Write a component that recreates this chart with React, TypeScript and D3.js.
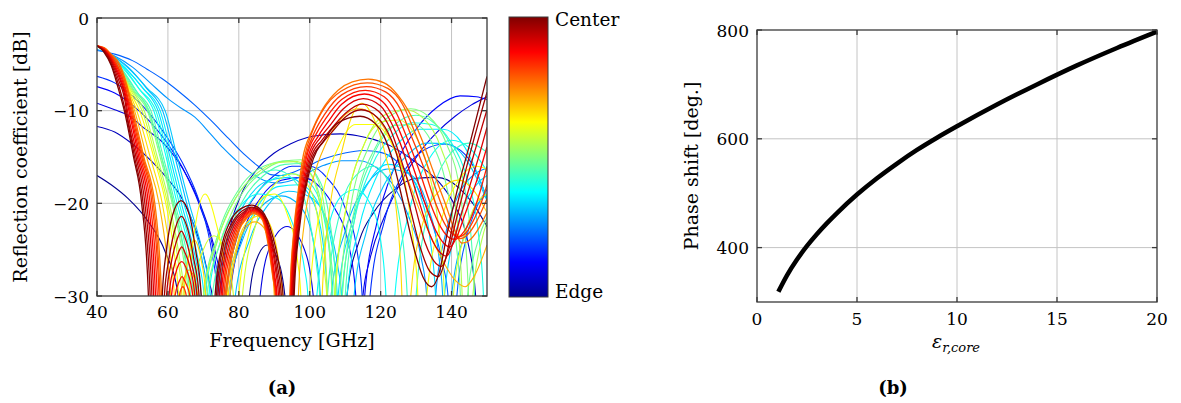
import React from "react";
import * as d3 from "d3";

type Pt = [number, number];

// ---------- axis ticks ----------
const freqTicks = [40, 60, 80, 100, 120, 140];
const dbTicks = [0, -10, -20, -30];
const epsTicks = [0, 5, 10, 15, 20];
const phaseTicks = [400, 600, 800];

// ---------- panel (b) data ----------
const epsValues = [1.07, 1.5, 2, 2.5, 3, 3.5, 4, 5, 6, 7, 8, 9, 10, 12, 14, 16, 18, 20];
const phaseValues = [319, 349, 378, 403, 425, 445, 463.5, 497.5, 527.5, 554.5, 579.5, 602, 623, 663, 700, 735, 767, 797];

// ---------- panel (a) data: reflection curves [GHz, dB], edge -> center ----------
const N0: Pt[] = [[40,-17],[44,-18],[48.8,-19.5],[54.5,-22],[59.2,-25.2],[62.9,-30],[64.5,-60],[81.5,-60],[83,-30],[85.5,-25.6],[88,-24.5],[90.5,-25.6],[93,-30],[94.5,-60],[108,-60],[110.5,-30],[114,-24],[118,-21],[124,-18.5],[130,-17.3],[136,-17.2],[142,-18.3],[146,-20],[150,-22.5]];
const B3: Pt[] = [[40,-11.7],[45,-12.3],[50,-13.6],[55,-15.3],[60,-17.4],[64,-19.5],[67.5,-22.5],[70,-25.5],[72,-29],[72.5,-30],[73.3,-60],[74.5,-30],[77,-23.5],[80.5,-19.2],[85,-16.4],[89.9,-14.6],[94.5,-13.6],[99.3,-12.9],[104,-12.6],[108.7,-12.5],[113.5,-12.7],[118,-13.1],[122.8,-13.8],[127.5,-14.9],[132,-16.2],[136.9,-17.9],[141,-20.3],[144.5,-24],[146.8,-30],[148,-60],[150,-45]];
const B2: Pt[] = [[40,-9.2],[45,-9.9],[48.8,-10.5],[53,-11.8],[58.2,-13.3],[62,-15],[66,-17.5],[70,-21],[73.5,-25.5],[75.5,-30],[76.3,-60],[85,-60],[86,-30],[89,-24.5],[93.6,-22.5],[98,-24.5],[101,-30],[102,-60],[112,-60],[115,-30],[117,-26],[121,-21.5],[126,-17.5],[131,-14.5],[136,-12.3],[141,-10.6],[145.5,-9.4],[150,-8.5]];
const B1: Pt[] = [[40,-7.4],[45,-8.1],[50,-9.4],[55,-11.2],[60,-13.6],[65,-16.8],[69.5,-20.8],[73,-25.5],[74.5,-30],[75.3,-60],[77.5,-30],[81,-23.5],[86,-19.5],[92,-17.5],[98,-17.2],[103,-18.3],[107,-20.5],[111,-24.5],[113,-30],[114,-60],[115.5,-30],[119,-22],[124,-16],[130,-12],[136,-9.6],[142.4,-8.4],[147,-8.5],[150,-8.8]];
const B0: Pt[] = [[40,-6.3],[45,-7],[50,-8.4],[55,-10.4],[60,-13],[65,-16.3],[69,-20],[72.5,-25.5],[74,-30],[74.8,-60],[76.5,-30],[80,-23],[85,-19],[90,-17],[95,-16],[100,-16],[105,-17.3],[110,-20.5],[113.5,-25.5],[114.8,-30],[115.6,-60],[117,-30],[121,-22],[126,-17],[132,-14.3],[138,-13.6],[144,-14.8],[148,-17.5],[150,-19.5]];
const LB1: Pt[] = [[40,-3.5],[45,-3.9],[50,-4.6],[54,-5.5],[58.2,-6.5],[63,-7.9],[67.6,-9.4],[72,-11],[77.1,-13],[81.8,-14.8],[85.5,-16],[89,-16.9],[92,-17],[95,-16.7],[99.3,-16],[104,-15.2],[109.6,-14.6],[115,-14.3],[120,-14.5],[125,-15.6],[130,-18],[134,-21.5],[137.5,-26.5],[139,-30],[140,-60],[141.5,-30],[144,-24],[147,-20.5],[150,-18.5]];
const LB0: Pt[] = [[40,-3.4],[45,-4.1],[50,-5.3],[55,-7],[60,-8.7],[64,-9.8],[67.6,-10.7],[72,-12.5],[75.5,-14],[79,-15.3],[83,-16.6],[87,-17.5],[91,-17.8],[95,-17.5],[99,-16.8],[104,-15.9],[109,-15.4],[114,-15.4],[119,-16.2],[124,-18.3],[128,-21.5],[131.5,-26],[133,-30],[134,-60],[135.5,-30],[138.5,-23],[142,-19],[146,-17],[150,-16.2]];
const X1: Pt[] = [[40,-3],[43,-3.7],[48.8,-5.3],[54,-7.6],[58.5,-10],[62,-15],[65.3,-20],[69.6,-26],[71.2,-30],[72,-60],[76.2,-60],[77,-30],[81,-24],[86,-20.5],[92,-19.2],[97,-20.2],[101,-24],[103,-30],[103.8,-60],[105.2,-60],[106,-30],[110,-23],[116,-18],[122,-16.3],[128,-16.8],[133,-20],[136.5,-26],[137.5,-30],[138.3,-60],[139.2,-60],[140,-30],[144,-23],[150,-19]];
const C2: Pt[] = [[40,-3],[43,-3.7],[48.5,-5.3],[54,-7.5],[59.2,-10],[62.6,-15],[66,-20],[70.2,-26],[72,-30],[72.8,-60],[78,-60],[79,-30],[83,-24],[88,-20.3],[94,-18.7],[100,-19.3],[105,-22],[108,-27],[109,-30],[110,-60],[111.5,-60],[112.5,-30],[116,-23],[121,-18],[127,-15],[133,-13.5],[139,-13.6],[144,-15.2],[148,-18],[150,-19.7]];
const X2: Pt[] = [[40,-3],[43,-3.75],[48,-5.4],[53,-7.6],[57.2,-10],[60.6,-15],[63.8,-20],[67.8,-26],[69.4,-30],[70.2,-60],[72.7,-60],[73.5,-30],[77,-24],[82,-19.8],[88,-17.6],[94,-17.2],[99,-18.6],[103,-22.5],[105,-30],[105.8,-60],[107.2,-60],[108,-30],[112,-22],[117,-17.5],[122,-15.8],[127,-16.4],[131,-19],[134,-24],[135.5,-30],[136.3,-60],[137.2,-60],[138,-30],[142,-22],[147,-18],[150,-17]];
const C1: Pt[] = [[40,-3],[43,-3.75],[48,-5.4],[53,-7.6],[57.8,-10],[61.2,-15],[64.5,-20],[68.5,-26],[70.2,-30],[71,-60],[75,-60],[76,-30],[79.5,-25],[85,-20.5],[91,-18.2],[97,-18],[102,-19.7],[106,-24],[107.8,-30],[108.6,-60],[109.6,-60],[110.5,-30],[114,-22.5],[119,-17],[125,-13.5],[131,-12],[137.6,-12],[143,-13.5],[147,-16.5],[150,-19.5]];
const X3: Pt[] = [[40,-3],[43,-3.8],[47.8,-5.5],[52,-7.7],[56,-10],[59.5,-15],[62.6,-20],[66.5,-26],[68,-30],[68.8,-60],[70.7,-60],[71.5,-30],[75,-24],[80,-20.5],[85.5,-19],[91,-19.5],[95,-22],[98.5,-27],[99.5,-30],[100.2,-60],[101.2,-60],[102,-30],[105,-23],[109,-19.2],[113,-18.5],[117,-20],[120,-24],[121.5,-30],[122.2,-60],[123.2,-60],[124,-30],[128,-21],[134,-15],[140,-13.2],[145,-14],[150,-16.5]];
const C0: Pt[] = [[40,-3],[43,-3.8],[47.5,-5.5],[52,-7.7],[56.6,-10],[60,-15],[63.2,-20],[67,-26],[68.6,-30],[69.4,-60],[73,-60],[74,-30],[77.5,-24.5],[83,-20],[89,-17.5],[95,-16.8],[100,-17.8],[104,-21.5],[106.5,-30],[107.3,-60],[108.2,-60],[109,-30],[112.5,-22],[117.5,-16],[123,-12.8],[129,-11.3],[134.5,-11.5],[140,-13.5],[144.5,-17.5],[147.5,-23],[149,-30],[150,-60]];
const X4: Pt[] = [[40,-3],[43,-3.85],[47.2,-5.6],[51,-7.8],[54.5,-10],[58.2,-15],[61.5,-20],[65,-26],[66.4,-30],[67.2,-60],[69.7,-60],[70.5,-30],[74,-24],[79,-19.5],[85,-17],[90.5,-16.4],[95.5,-17.5],[99.5,-21],[102,-27],[102.8,-30],[103.5,-60],[104.3,-60],[105,-30],[108.5,-21],[113,-17],[118,-16],[122,-17.5],[125.5,-22],[127.5,-30],[128.2,-60],[129.2,-60],[130,-30],[134,-20],[140,-14.5],[145,-13.5],[150,-14.5]];
const G2: Pt[] = [[40,-3],[43,-3.85],[47,-5.6],[51,-7.9],[55.2,-10],[58.7,-15],[62,-20],[65.6,-26],[67.2,-30],[68,-60],[71.5,-60],[72.5,-30],[76,-24.5],[81,-19.8],[87,-17],[93,-15.8],[98,-15.7],[102,-17],[105.5,-21.5],[107.5,-30],[108.3,-60],[109.2,-60],[110,-30],[113,-21],[118,-14.8],[124,-11.5],[130,-10.5],[135,-11.3],[140,-14],[144,-19],[146.5,-30],[147.3,-60],[150,-35]];
const X5: Pt[] = [[40,-3],[43,-3.9],[46.8,-5.6],[50.6,-7.9],[54.7,-10],[58.2,-15],[61.6,-20],[64.8,-26],[66.2,-30],[67,-60],[69.2,-60],[70,-30],[74,-23.5],[80,-18.5],[87,-16],[94,-15.4],[99,-16.2],[103,-19.5],[106,-26],[107,-30],[107.8,-60],[108.5,-60],[109.2,-30],[113,-20],[118.5,-14],[124,-11.6],[129.5,-11.5],[134.5,-13.5],[138.5,-18],[141.5,-25],[142.5,-30],[143.2,-60],[143.8,-60],[144.5,-30],[147.5,-24],[150,-21.5]];
const G1: Pt[] = [[40,-3],[43,-3.9],[46.5,-5.6],[50.3,-7.9],[54.2,-10],[57.8,-15],[61.2,-20],[64.4,-26],[65.8,-30],[66.6,-60],[70,-60],[71,-30],[74.5,-24.5],[80,-19.5],[86,-16.8],[92,-15.5],[97.5,-15.3],[101.5,-16.8],[104.5,-21.5],[106.3,-30],[107,-60],[107.8,-60],[108.5,-30],[111.5,-20.5],[116.5,-14],[122.5,-10.6],[128.5,-9.8],[133.5,-10.6],[138.5,-13.5],[142.5,-19],[144.8,-30],[145.5,-60],[150,-36]];
const G0: Pt[] = [[40,-3],[43,-3.9],[46,-5.4],[49.5,-7.6],[53.3,-10],[57,-15],[60.4,-20],[63.3,-26],[64.6,-30],[65.4,-60],[69,-60],[70,-30],[73.5,-24.5],[79,-19.5],[85,-16.8],[91,-15.6],[96.5,-15.5],[100.5,-17],[103.5,-22],[105,-30],[105.8,-60],[106.5,-60],[107.2,-30],[110.5,-20],[115.5,-13.5],[121,-10.5],[127,-9.9],[132,-10.8],[137,-14],[141,-20],[143,-30],[143.8,-60],[145,-60],[146,-30],[148.5,-24],[150,-22]];
const X6: Pt[] = [[40,-3],[43,-3.8],[46.2,-5.5],[49.5,-7.8],[52.7,-10],[56.5,-15],[59.9,-20],[62.8,-26],[64,-30],[64.8,-60],[66.2,-60],[67,-30],[70,-25],[73,-23.5],[76,-25],[78.5,-30],[79.3,-60],[80.2,-60],[81,-30],[85,-22],[90,-18],[95,-16.8],[99,-17.8],[102,-21],[104,-27],[104.8,-30],[105.5,-60],[106.2,-60],[107,-30],[110.5,-20],[115.5,-13.5],[120.5,-11.2],[125,-11],[129.5,-12.5],[133.5,-16.5],[136.5,-23],[138,-30],[138.8,-60],[139.7,-60],[140.5,-30],[144,-23],[147,-20],[150,-19]];
const Y2: Pt[] = [[40,-3],[42,-3.35],[44,-4.5],[47.2,-6.2],[49.8,-8.3],[52,-10],[56,-15],[59.4,-20],[62,-26],[63,-30],[63.8,-60],[65.2,-60],[66,-30],[67.5,-23],[70.5,-19],[73.5,-22],[76,-27],[76.8,-30],[77.6,-60],[79.2,-60],[80,-30],[83,-23],[87,-19.3],[90,-19],[93.5,-21],[96.5,-26],[97.5,-30],[98.3,-60],[99.2,-60],[100,-30],[103,-20.5],[108,-14],[113,-11.5],[118,-11.5],[123,-13.5],[127,-18],[129.5,-25],[130.5,-30],[131.2,-60],[132.2,-60],[133,-30],[137,-22],[142,-17.5],[147,-16],[150,-16.3]];
const Y1: Pt[] = [[40,-3],[42,-3.3],[44,-4.4],[47,-6.1],[49.2,-8.1],[51.2,-10],[55,-15],[58.4,-20],[60.8,-26],[61.8,-30],[62.6,-60],[63.6,-60],[64.5,-30],[65.8,-25.8],[67.5,-24],[69.2,-25.8],[70.7,-30],[71.5,-60],[76,-60],[77,-30],[79.5,-24.5],[83,-21.8],[86.5,-21.3],[89.5,-23],[91.5,-27],[92.3,-30],[93,-60],[102.5,-60],[103.5,-30],[105.5,-21],[108.5,-15.3],[111.5,-11],[114.7,-9.2],[118,-10.8],[121.5,-15],[124.5,-21],[126,-30],[126.8,-60],[127.6,-60],[128.5,-30],[132,-22],[137,-18.5],[142,-17.5],[146,-18.5],[150,-21]];
const Y0: Pt[] = [[40,-3],[42,-3.3],[44,-4.3],[46.8,-6],[48.8,-8],[50.6,-10],[54,-15],[57.5,-20],[59.8,-26],[60.8,-30],[61.6,-60],[62.6,-60],[63.6,-30],[64.8,-27.8],[66,-27.2],[67.2,-27.8],[68.4,-30],[69.6,-60],[76.5,-60],[77.5,-30],[79.5,-25],[82,-22.6],[84.5,-22],[87,-22.6],[89,-25.5],[90,-30],[91,-60],[95.6,-60],[96.8,-30],[98.5,-22],[101,-17.3],[104.5,-13.6],[109,-10.8],[113.8,-9.8],[118,-10.4],[122,-12.5],[127,-16.8],[132,-21.7],[137,-25.8],[141,-28.3],[143.8,-29],[146.5,-27.8],[150,-24.5]];
const R8: Pt[] = [[40,-3],[42,-3.2],[44,-3.9],[46.4,-5],[48.4,-7.2],[50.2,-10],[53.2,-15],[56.3,-20],[58.2,-30],[59.2,-60],[68,-60],[76.4,-30],[78,-25.9],[80.1,-22.9],[82.3,-21.6],[84.2,-21.1],[86.5,-21.7],[88.3,-24.5],[89.6,-28],[90.3,-30],[91.3,-60],[93.4,-60],[94.4,-30],[95.5,-23],[96.8,-18.5],[98,-15.2],[100.5,-12.3],[103.4,-10],[108,-7.8],[112,-6.9],[116.5,-6.6],[121,-7],[124.8,-8.3],[127.8,-10],[131.5,-13],[134.8,-16.5],[138.2,-20],[140.8,-22.8],[142.9,-24.3],[145,-24],[147.5,-22.8],[150,-21]];
const R7: Pt[] = [[40,-3],[42,-3.25],[44,-4],[46.2,-5.1],[48.2,-7.3],[49.9,-10],[52.9,-15],[55.9,-20],[57.8,-30],[58.8,-60],[68,-60],[76.1,-30],[77.7,-25.8],[79.9,-22.8],[82.2,-21.5],[84.2,-21],[86.6,-21.6],[88.4,-24.4],[89.7,-28],[90.4,-30],[91.5,-60],[93.6,-60],[94.5,-30],[95.6,-23],[97,-18.5],[98.4,-15.2],[101,-12],[103.8,-9.9],[108.8,-7.9],[116.2,-7],[122,-7.6],[126,-9.2],[129.5,-12.2],[133.5,-16.2],[137,-20],[139.8,-22.8],[141.3,-23.6],[142.5,-23.8],[144.5,-23.4],[147,-22],[150,-19.5]];
const R6: Pt[] = [[40,-3],[42,-3.3],[44,-4.1],[46,-5.3],[48,-7.5],[49.6,-10],[52.6,-15],[55.5,-20],[57.5,-30],[58.4,-60],[62.2,-60],[63.2,-30],[64.2,-29],[65.2,-30],[66.5,-60],[74.8,-60],[75.8,-30],[77.4,-25.7],[79.6,-22.7],[82,-21.4],[84.1,-20.9],[86.6,-21.5],[88.5,-24.3],[89.8,-27.9],[90.5,-30],[91.8,-60],[93.7,-60],[94.6,-30],[95.8,-23],[97.2,-18.5],[98.7,-15.2],[101.5,-12.2],[104.2,-10.4],[109,-8.3],[116,-7.4],[121.5,-8],[125.5,-9.8],[128.5,-12.6],[132.3,-16.3],[135.5,-20],[138.5,-22.5],[140.5,-23.4],[142,-23.6],[144,-23.2],[146.5,-21.6],[148.5,-19.8],[150,-18]];
const R5: Pt[] = [[40,-3],[42,-3.35],[44,-4.25],[46,-5.6],[48,-7.8],[49.3,-10],[52.2,-15],[55,-20],[57,-30],[58,-60],[61,-60],[62,-30],[63.1,-28.5],[64,-27.9],[64.9,-28.5],[66.2,-30],[67.5,-60],[74.4,-60],[75.4,-30],[77,-25.6],[79.3,-22.6],[81.8,-21.3],[84,-20.8],[86.6,-21.4],[88.6,-24.2],[89.9,-27.8],[90.6,-30],[92,-60],[93.8,-60],[94.7,-30],[96,-23],[97.5,-18.5],[99,-15.2],[102,-12.4],[104.6,-10.8],[109,-8.8],[115.7,-7.8],[121,-8.5],[124.5,-10.3],[127.5,-13],[131,-16.6],[134,-20],[137,-22.6],[139.3,-23.7],[141,-23.9],[143,-23.3],[145.5,-21.6],[148,-18.8],[150,-16]];
const R4: Pt[] = [[40,-3],[42,-3.4],[44,-4.4],[46,-5.9],[48,-8.2],[49,-10],[51.8,-15],[54.5,-20],[56.5,-30],[57.5,-60],[60,-60],[61,-30],[62.3,-27.4],[63.9,-26.3],[65.5,-27.4],[67,-30],[68.2,-60],[74,-60],[75,-30],[76.6,-25.5],[79,-22.5],[81.6,-21.2],[84,-20.7],[86.6,-21.3],[88.8,-24.1],[90.1,-27.7],[90.8,-30],[92.2,-60],[93.9,-60],[94.8,-30],[96.2,-23],[97.8,-18.5],[99.4,-15.2],[102.5,-12.7],[105,-11.3],[109,-9.3],[115.4,-8.2],[120.5,-9],[123.7,-10.8],[126.5,-13.3],[129.8,-16.8],[132.5,-20],[135.5,-22.9],[137.8,-24.3],[139.6,-24.7],[141.5,-23.6],[143.5,-21.5],[146,-18.8],[148,-16.5],[150,-13.9]];
const R3: Pt[] = [[40,-3],[42,-3.45],[44,-4.55],[46,-6.2],[48,-8.6],[48.6,-10],[51.4,-15],[54,-20],[56,-30],[57,-60],[59.3,-60],[60.3,-30],[61.6,-27],[63,-25.3],[63.9,-24.7],[64.8,-25.3],[66.3,-27],[67.6,-30],[68.8,-60],[73.6,-60],[74.6,-30],[76.2,-25.4],[78.7,-22.4],[81.4,-21.1],[83.9,-20.6],[86.6,-21.2],[89,-24],[90.5,-27.6],[91.2,-30],[92.5,-60],[94.1,-60],[95,-30],[96.4,-23],[98.1,-18.5],[99.8,-15.2],[103,-12.9],[105.5,-11.7],[109.5,-9.8],[115.1,-8.7],[120,-9.5],[123,-11.3],[125.5,-13.5],[128.3,-16.7],[131,-20],[134,-23.5],[136.5,-25.2],[138.6,-25.7],[140.5,-24.2],[142.5,-21.5],[145,-18.3],[147.5,-15.2],[150,-11.8]];
const R2: Pt[] = [[40,-3],[42,-3.5],[44,-4.7],[46,-6.6],[48,-9.2],[48.3,-10],[51,-15],[53.5,-20],[55.5,-30],[56.5,-60],[58.6,-60],[59.6,-30],[61,-26.3],[62.5,-24],[63.8,-23],[65.1,-24],[66.7,-26.5],[68.2,-30],[69.4,-60],[73.1,-60],[74.1,-30],[75.8,-25.2],[78.3,-22.3],[81.2,-21],[83.8,-20.5],[86.6,-21.1],[89.2,-24],[90.8,-27.5],[91.6,-30],[92.8,-60],[94.3,-60],[95.2,-30],[96.6,-23],[98.4,-18.5],[100.2,-15.2],[103.4,-13.2],[106,-12],[110,-10.3],[114.8,-9.3],[119.5,-10.1],[122.5,-11.8],[124.5,-13.8],[127,-16.8],[129.5,-20],[132.5,-24.2],[135,-26.2],[137.2,-26.8],[139.2,-25],[141.5,-21.5],[144,-17.8],[147,-13.8],[150,-9.9]];
const R1: Pt[] = [[40,-3],[42,-3.6],[44,-4.9],[46,-7.1],[48,-10],[50.6,-15],[53,-20],[55,-30],[56,-60],[58,-60],[59,-30],[60.3,-26],[62,-22.8],[63.8,-21.4],[65.6,-22.8],[67.3,-26],[68.8,-30],[70,-60],[72.7,-60],[73.7,-30],[75.4,-25],[78,-22.2],[81,-20.8],[83.7,-20.4],[86.5,-21],[89.3,-23.8],[91.1,-27.2],[92,-30],[93.2,-60],[94.5,-60],[95.4,-30],[96.8,-23],[98.6,-18.5],[100.6,-15.2],[103.8,-13.4],[106.5,-12.2],[110,-10.7],[114.5,-9.9],[119,-10.7],[122,-12.3],[124,-14.1],[126,-16.8],[128,-20],[131.2,-24.8],[133.8,-27.3],[136.3,-27.9],[138.3,-26],[140.5,-22],[143.3,-17.5],[146.5,-12.8],[150,-8]];
const R0: Pt[] = [[40,-3],[42,-3.7],[44,-5.1],[46,-7.6],[47.7,-10],[50.3,-15],[52.6,-20],[54.5,-30],[55.6,-60],[57.4,-60],[58.4,-30],[59.6,-25],[61.3,-21.3],[63.7,-19.7],[66.1,-21.3],[67.8,-25],[69.4,-30],[70.6,-60],[72.3,-60],[73.3,-30],[75,-25],[77.5,-22],[80.5,-20.6],[83.6,-20.2],[86.5,-20.8],[89.5,-23.5],[91.5,-27],[92.5,-30],[93.6,-60],[94.7,-60],[95.6,-30],[97,-23],[98.8,-18.5],[101,-15.2],[104,-13.2],[108,-11.3],[114.2,-10.6],[118.5,-11.4],[121,-12.8],[123.5,-15.5],[126.4,-20],[129.5,-25],[132,-28],[134.4,-29],[136.5,-27.5],[138.8,-23.2],[141.4,-18.9],[145.2,-13.5],[150,-6.3]];

// colour index along the jet map (0 = edge, 1 = center)
const curveIndex = [0, 0.05, 0.09, 0.13, 0.17, 0.22, 0.27, 0.3, 0.32, 0.34, 0.36, 0.38, 0.4, 0.43, 0.45, 0.48, 0.5, 0.55, 0.58, 0.62, 0.66, 0.7, 0.76, 0.79, 0.82, 0.85, 0.88, 0.91, 0.94, 0.97, 1.0];
const curveData = [N0, B3, B2, B1, B0, LB1, LB0, X1, C2, X2, C1, X3, C0, X4, G2, X5, G1, G0, X6, Y2, Y1, Y0, R8, R7, R6, R5, R4, R3, R2, R1, R0];

const jetStops = [0, 0.125, 0.375, 0.625, 0.875, 1];
const jetColors = ["#00008f", "#0000ff", "#00ffff", "#ffff00", "#ff0000", "#800000"];

const FONT = "DejaVu Serif";
const FS = 17;
const FL = 19;

export default function App() {
  const jet = d3.scaleLinear<string>().domain(jetStops).range(jetColors).interpolate(d3.interpolateRgb);

  // ----- panel (a) -----
  const xa = d3.scaleLinear().domain([40, 150]).range([97, 487]);
  const ya = d3.scaleLinear().domain([-30, 0]).range([296, 18]);
  const lineA = d3.line<Pt>().x((d) => xa(d[0])).y((d) => ya(d[1])).curve(d3.curveMonotoneX);

  // ----- panel (b) -----
  const xb = d3.scaleLinear().domain([0, 20]).range([757, 1157]);
  const yb = d3.scaleLinear().domain([300, 800]).range([302, 30]);
  const bPts: Pt[] = epsValues.map((e, i) => [e, phaseValues[i]]);
  const lineB = d3.line<Pt>().x((d) => xb(d[0])).y((d) => yb(d[1])).curve(d3.curveMonotoneX);

  const cbX = 509, cbW = 39, cbTop = 17, cbBot = 297;
  const axisColor = "#3a3a3a";
  const gridColor = "#c4c4c4";
  const tickLen = 5;

  return (
    <svg width={1181} height={403} style={{ position: "absolute", left: 0, top: 0, background: "#fff" }} fontFamily={FONT}>
      <defs>
        <clipPath id="clipA">
          <rect x={xa(40)} y={ya(0)} width={xa(150) - xa(40)} height={ya(-30) - ya(0)} />
        </clipPath>
        <linearGradient id="jetGrad" x1="0" y1="1" x2="0" y2="0">
          {jetStops.map((s, i) => (
            <stop key={i} offset={`${s * 100}%`} stopColor={jetColors[i]} />
          ))}
        </linearGradient>
      </defs>

      {/* ===== panel (a) ===== */}
      <rect x={xa(40)} y={ya(0)} width={xa(150) - xa(40)} height={ya(-30) - ya(0)} fill="#fff" />
      {freqTicks.slice(1).map((t) => (
        <line key={"gx" + t} x1={xa(t)} x2={xa(t)} y1={ya(0)} y2={ya(-30)} stroke={gridColor} strokeWidth={1} />
      ))}
      {dbTicks.slice(1, 3).map((t) => (
        <line key={"gy" + t} x1={xa(40)} x2={xa(150)} y1={ya(t)} y2={ya(t)} stroke={gridColor} strokeWidth={1} />
      ))}
      <g clipPath="url(#clipA)">
        {curveData.map((pts, i) => (
          <path key={i} d={lineA(pts) || ""} fill="none" stroke={jet(curveIndex[i])} strokeWidth={curveIndex[i] >= 0.75 ? 1.3 : 1.1} />
        ))}
      </g>
      <rect x={xa(40)} y={ya(0)} width={xa(150) - xa(40)} height={ya(-30) - ya(0)} fill="none" stroke={axisColor} strokeWidth={1.3} />
      {freqTicks.map((t) => (
        <g key={"tx" + t}>
          <line x1={xa(t)} x2={xa(t)} y1={ya(-30)} y2={ya(-30) - tickLen} stroke={axisColor} strokeWidth={1.3} />
          <line x1={xa(t)} x2={xa(t)} y1={ya(0)} y2={ya(0) + tickLen} stroke={axisColor} strokeWidth={1.3} />
          <text x={xa(t)} y={318} textAnchor="middle" fontSize={FS}>{t}</text>
        </g>
      ))}
      {dbTicks.map((t) => (
        <g key={"ty" + t}>
          <line x1={xa(40)} x2={xa(40) + tickLen} y1={ya(t)} y2={ya(t)} stroke={axisColor} strokeWidth={1.3} />
          <line x1={xa(150)} x2={xa(150) - tickLen} y1={ya(t)} y2={ya(t)} stroke={axisColor} strokeWidth={1.3} />
          <text x={89} y={ya(t) + 6.5} textAnchor="end" fontSize={FS}>{t === 0 ? "0" : "\u2212" + Math.abs(t)}</text>
        </g>
      ))}
      <text x={(xa(40) + xa(150)) / 2} y={347} textAnchor="middle" fontSize={FL}>Frequency [GHz]</text>
      <text transform={`translate(27,${(ya(0) + ya(-30)) / 2}) rotate(-90)`} textAnchor="middle" fontSize={FL}>Reflection coefficient [dB]</text>
      <text x={282} y={394} textAnchor="middle" fontSize={18} fontWeight="bold">(a)</text>

      {/* colorbar */}
      <rect x={cbX} y={cbTop} width={cbW} height={cbBot - cbTop} fill="url(#jetGrad)" stroke={axisColor} strokeWidth={1} />
      <text x={555} y={26} fontSize={18.5}>Center</text>
      <text x={555} y={298} fontSize={18.5}>Edge</text>

      {/* ===== panel (b) ===== */}
      {epsTicks.slice(1, 4).map((t) => (
        <line key={"gbx" + t} x1={xb(t)} x2={xb(t)} y1={yb(800)} y2={yb(300)} stroke={gridColor} strokeWidth={1} />
      ))}
      {phaseTicks.slice(0, 2).map((t) => (
        <line key={"gby" + t} x1={xb(0)} x2={xb(20)} y1={yb(t)} y2={yb(t)} stroke={gridColor} strokeWidth={1} />
      ))}
      <path d={lineB(bPts) || ""} fill="none" stroke="#000" strokeWidth={4.5} />
      <rect x={xb(0)} y={yb(800)} width={xb(20) - xb(0)} height={yb(300) - yb(800)} fill="none" stroke={axisColor} strokeWidth={1.3} />
      {epsTicks.map((t) => (
        <g key={"tbx" + t}>
          <line x1={xb(t)} x2={xb(t)} y1={yb(300)} y2={yb(300) - tickLen} stroke={axisColor} strokeWidth={1.3} />
          <line x1={xb(t)} x2={xb(t)} y1={yb(800)} y2={yb(800) + tickLen} stroke={axisColor} strokeWidth={1.3} />
          <text x={xb(t)} y={325} textAnchor="middle" fontSize={FS}>{t}</text>
        </g>
      ))}
      {phaseTicks.map((t) => (
        <g key={"tby" + t}>
          <line x1={xb(0)} x2={xb(0) + tickLen} y1={yb(t)} y2={yb(t)} stroke={axisColor} strokeWidth={1.3} />
          <line x1={xb(20)} x2={xb(20) - tickLen} y1={yb(t)} y2={yb(t)} stroke={axisColor} strokeWidth={1.3} />
          <text x={749} y={yb(t) + 6.5} textAnchor="end" fontSize={FS}>{t}</text>
        </g>
      ))}
      <text x={956} y={348} textAnchor="middle" fontStyle="italic">
        <tspan fontSize={19}>ε</tspan>
        <tspan fontSize={13} dy={4}>r,core</tspan>
      </text>
      <text transform={`translate(698,${(yb(800) + yb(300)) / 2}) rotate(-90)`} textAnchor="middle" fontSize={FL}>Phase shift [deg.]</text>
      <text x={893} y={394} textAnchor="middle" fontSize={18} fontWeight="bold">(b)</text>
    </svg>
  );
}
